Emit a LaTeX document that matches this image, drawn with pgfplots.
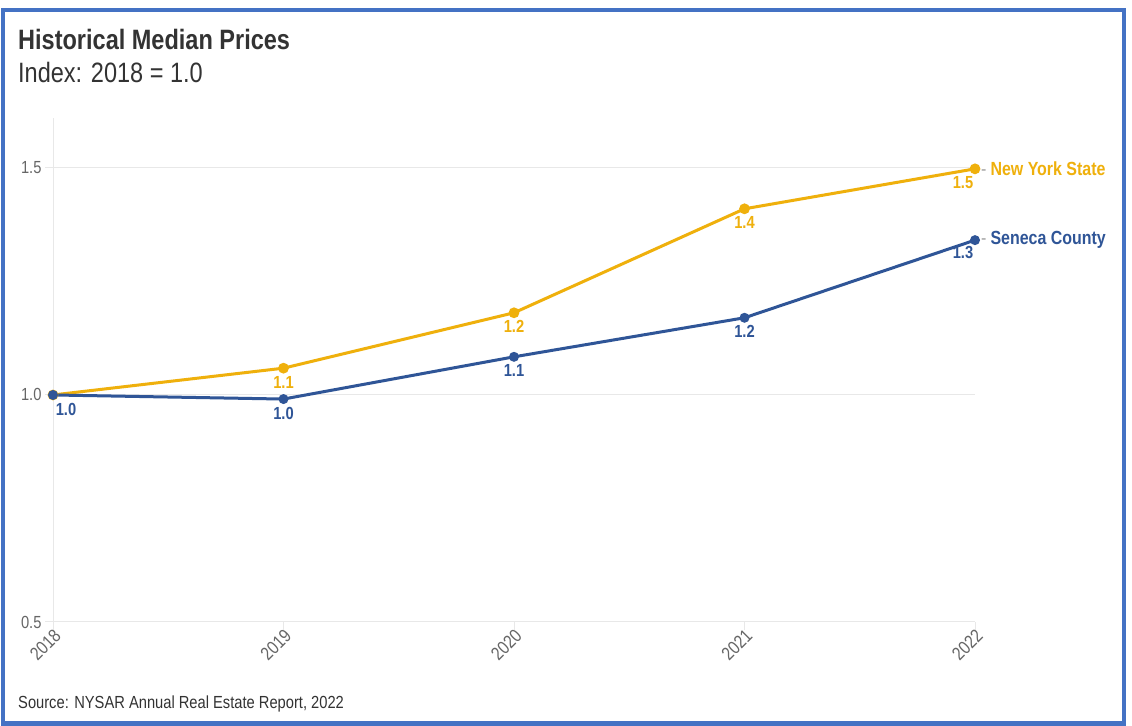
\documentclass[border=0pt]{standalone}
\usepackage{pgfplots}
\pgfplotsset{compat=1.18}
\usepackage{fontspec}
\setmainfont{Liberation Sans}[FakeStretch=0.84]
\definecolor{gold}{HTML}{EFB00C}
\definecolor{navy}{HTML}{2F5597}
\definecolor{frame}{HTML}{4472C4}
\definecolor{txt}{HTML}{333333}
\definecolor{tick}{HTML}{666666}
\definecolor{gridc}{HTML}{E8E8E8}
\begin{document}
\begin{tikzpicture}
\useasboundingbox (0,0) rectangle (1132bp,726bp);
\fill[white] (0,0) rectangle (1132bp,726bp);
\draw[frame, line width=4.5bp] (3bp,2.5bp) rectangle (1124bp,716bp);
\node[anchor=base west, inner sep=0, text=txt, font=\bfseries\fontsize{28bp}{32bp}\selectfont] at (18bp,676bp) {Historical Median Prices};
\node[anchor=base west, inner sep=0, text=txt, font=\fontsize{28bp}{32bp}\selectfont] at (18bp,643bp) {Index: 2018 = 1.0};
\node[anchor=base west, inner sep=0, text=txt, font=\fontsize{17.5bp}{20bp}\selectfont] at (18bp,18bp) {Source: NYSAR Annual Real Estate Report, 2022};
\begin{axis}[
  at={(53bp,104bp)}, anchor=origin,
  scale only axis, width=922bp, height=504bp,
  xmin=2018, xmax=2022, ymin=0.5, ymax=1.61,
  axis lines=left, axis line style={-, draw=gridc, line width=1bp},
  xtick={2018,2019,2020,2021,2022},
  ytick={0.5,1.0,1.5},
  xticklabel style={rotate=45, anchor=east, text=tick, font=\fontsize{18.5bp}{20bp}\selectfont, xshift=5bp, yshift=-5bp},
  yticklabel style={text=tick, font=\fontsize{17.5bp}{20bp}\selectfont},
  /pgf/number format/assume math mode=true,
  xticklabels={2018,2019,2020,2021,2022},
  yticklabels={0.5,1.0,1.5},
  tick style={draw=gridc, line width=1bp},
  major tick length=8bp,
  tick align=outside,
  ymajorgrids, grid style={draw=gridc, line width=1bp},
  clip=false,
  every axis plot/.append style={line width=3bp},
]
\addplot[gold, mark=*, mark size=3.8bp] coordinates {(2018,1.0) (2019,1.059) (2020,1.181) (2021,1.410) (2022,1.498)};
\addplot[navy, mark=*, mark size=3.4bp] coordinates {(2018,1.0) (2019,0.991) (2020,1.084) (2021,1.170) (2022,1.341)};
% data labels
\pgfplotsset{lbl/.style={draw=none, mark=none, nodes near coords,
  nodes near coords style={font=\bfseries\fontsize{17.5bp}{20bp}\selectfont, /pgf/number format/.cd, fixed, precision=1, fixed zerofill, /tikz/.cd}}}
\addplot[lbl, nodes near coords style={text=gold, anchor=north, yshift=-3bp}] coordinates {(2019,1.059) (2020,1.181) (2021,1.410)};
\addplot[lbl, nodes near coords style={text=gold, anchor=north, xshift=-12bp, yshift=-3bp}] coordinates {(2022,1.498)};
\addplot[lbl, nodes near coords style={text=navy, anchor=north, yshift=-3bp}] coordinates {(2019,0.991) (2020,1.084) (2021,1.170)};
\addplot[lbl, nodes near coords style={text=navy, anchor=north west, xshift=-2bp, yshift=-3bp}] coordinates {(2018,1.0)};
\addplot[lbl, nodes near coords style={text=navy, anchor=north, xshift=-12bp, yshift=-1bp}] coordinates {(2022,1.341)};
\node[anchor=west, inner sep=0, font=\fontsize{19bp}{22bp}\selectfont] at (axis cs:2022,1.498) {\hspace{6bp}{\color{tick!60}-}\hspace{4bp}\textbf{\color{gold}New York State}};
\node[anchor=west, inner sep=0, font=\fontsize{19bp}{22bp}\selectfont] at (axis cs:2022,1.341) {\hspace{6bp}{\color{tick!60}-}\hspace{4bp}\textbf{\color{navy}Seneca County}};
\end{axis}
\end{tikzpicture}
\end{document}
